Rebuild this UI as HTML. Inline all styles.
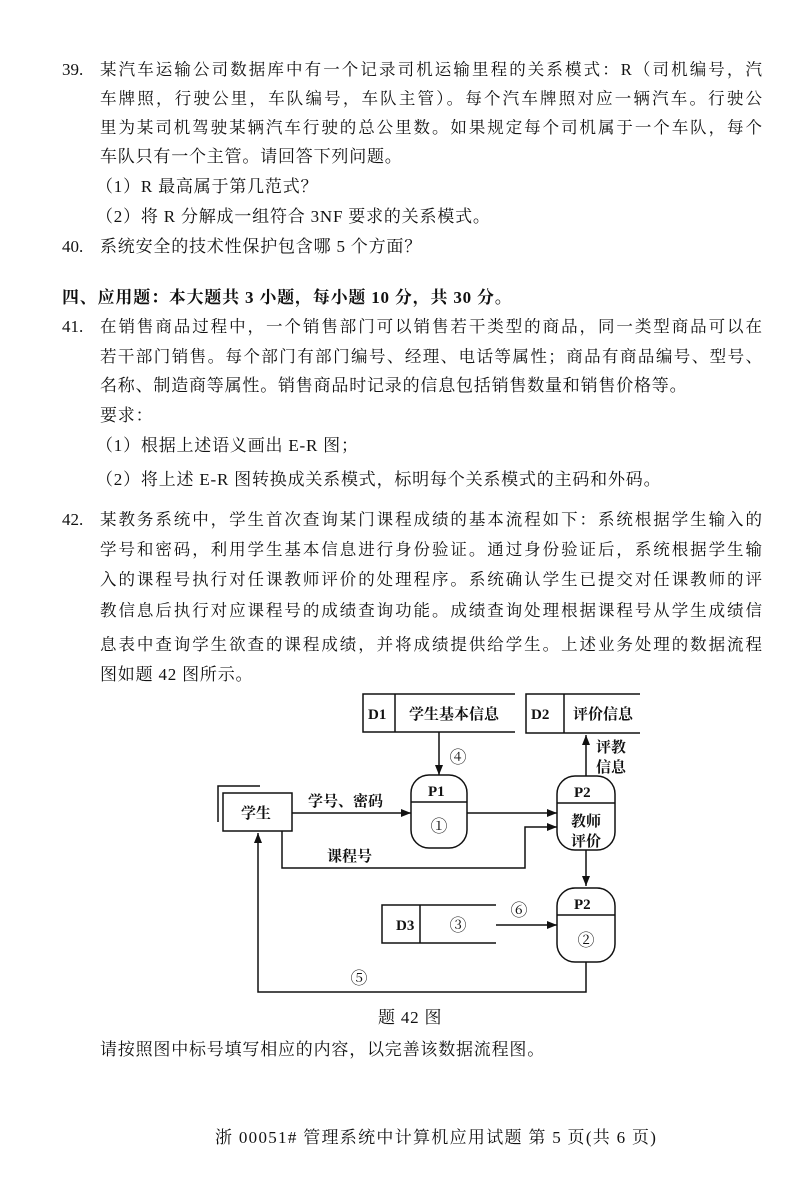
<!DOCTYPE html>
<html><head><meta charset="utf-8"><style>
body{margin:0;width:800px;height:1177px;background:#fff;position:relative;overflow:hidden;font-family:"Liberation Serif","Noto Serif CJK SC",serif;color:#111}
.l{position:absolute;font-size:17px;line-height:20px;white-space:nowrap;letter-spacing:0.8px}
.j{text-align:justify;text-align-last:justify;white-space:normal;height:20px;overflow:hidden;letter-spacing:0;font-size:16.5px}
.n{position:absolute;font-size:17px;line-height:20px}
svg{position:absolute;left:0;top:0}
svg text{font-family:"Liberation Serif","Noto Serif CJK SC",serif}
</style></head><body>
<div class="n" style="left:62px;top:60px">39.</div>
<div class="l j" style="left:100px;top:60px;width:662px">某汽车运输公司数据库中有一个记录司机运输里程的关系模式：R（司机编号，汽</div>
<div class="l j" style="left:100px;top:89px;width:662px">车牌照，行驶公里，车队编号，车队主管）。每个汽车牌照对应一辆汽车。行驶公</div>
<div class="l j" style="left:100px;top:118px;width:662px">里为某司机驾驶某辆汽车行驶的总公里数。如果规定每个司机属于一个车队，每个</div>
<div class="l" style="left:100px;top:147px">车队只有一个主管。请回答下列问题。</div>
<div class="l" style="left:96px;top:177px">（1）R 最高属于第几范式？</div>
<div class="l" style="left:96px;top:207px">（2）将 R 分解成一组符合 3NF 要求的关系模式。</div>
<div class="n" style="left:62px;top:237px">40.</div>
<div class="l" style="left:100px;top:237px">系统安全的技术性保护包含哪 5 个方面？</div>
<div class="l" style="left:62px;top:288px;font-weight:bold">四、应用题：本大题共 3 小题，每小题 10 分，共 30 分。</div>
<div class="n" style="left:62px;top:317px">41.</div>
<div class="l j" style="left:100px;top:317px;width:662px">在销售商品过程中，一个销售部门可以销售若干类型的商品，同一类型商品可以在</div>
<div class="l j" style="left:100px;top:347px;width:662px">若干部门销售。每个部门有部门编号、经理、电话等属性；商品有商品编号、型号、</div>
<div class="l" style="left:100px;top:376px">名称、制造商等属性。销售商品时记录的信息包括销售数量和销售价格等。</div>
<div class="l" style="left:100px;top:406px">要求：</div>
<div class="l" style="left:96px;top:436px">（1）根据上述语义画出 E-R 图；</div>
<div class="l" style="left:96px;top:470px">（2）将上述 E-R 图转换成关系模式，标明每个关系模式的主码和外码。</div>
<div class="n" style="left:62px;top:510px">42.</div>
<div class="l j" style="left:100px;top:510px;width:662px">某教务系统中，学生首次查询某门课程成绩的基本流程如下：系统根据学生输入的</div>
<div class="l j" style="left:100px;top:540px;width:662px">学号和密码，利用学生基本信息进行身份验证。通过身份验证后，系统根据学生输</div>
<div class="l j" style="left:100px;top:570px;width:662px">入的课程号执行对任课教师评价的处理程序。系统确认学生已提交对任课教师的评</div>
<div class="l j" style="left:100px;top:601px;width:662px">教信息后执行对应课程号的成绩查询功能。成绩查询处理根据课程号从学生成绩信</div>
<div class="l j" style="left:100px;top:635px;width:662px">息表中查询学生欲查的课程成绩，并将成绩提供给学生。上述业务处理的数据流程</div>
<div class="l" style="left:100px;top:665px">图如题 42 图所示。</div>

<svg width="800" height="1177" viewBox="0 0 800 1177">
<defs><marker id="a" markerWidth="10" markerHeight="8" refX="10" refY="4" orient="auto" markerUnits="userSpaceOnUse"><path d="M0,0L10,4L0,8z" fill="#111"/></marker></defs>
<g stroke="#111" stroke-width="1.5" fill="none">
<path d="M515,694H363V732H515M395,694V732"/>
<path d="M640,694H526V733H640M564,694V733"/>
<path d="M496,905H382V943H496M420,905V943"/>
<rect x="223" y="793" width="69" height="38"/>
<path d="M260,786H218V822"/>
<rect x="411" y="775" width="56" height="73" rx="18"/>
<path d="M411,802H467"/>
<rect x="557" y="776" width="58" height="74" rx="18"/>
<path d="M557,803H615"/>
<rect x="557" y="888" width="58" height="74" rx="18"/>
<path d="M557,915H615"/>
<path d="M439,732V775" marker-end="url(#a)"/>
<path d="M586,776V735" marker-end="url(#a)"/>
<path d="M292,813H411" marker-end="url(#a)"/>
<path d="M467,813H557" marker-end="url(#a)"/>
<path d="M282,831V868H525V827H557" marker-end="url(#a)"/>
<path d="M586,850V886" marker-end="url(#a)"/>
<path d="M496,925H557" marker-end="url(#a)"/>
<path d="M586,962V992H258V833" marker-end="url(#a)"/>
</g>
<g font-size="15" fill="#111" font-weight="bold">
<text x="368" y="719">D1</text><text x="409" y="719">学生基本信息</text>
<text x="531" y="719">D2</text><text x="573" y="719">评价信息</text>
<text x="396" y="930">D3</text>
<text x="428" y="796">P1</text><text x="574" y="797">P2</text><text x="574" y="909">P2</text>
<text x="241" y="818">学生</text>
<text x="308" y="806">学号、密码</text>
<text x="327" y="861">课程号</text>
<text x="571" y="826">教师</text><text x="571" y="846">评价</text>
<text x="596" y="752">评教</text><text x="596" y="772">信息</text>
</g>
<g font-size="17" fill="#111" text-anchor="middle">
<text x="439" y="832">①</text><text x="586" y="946">②</text><text x="458" y="931">③</text>
<text x="458" y="763">④</text><text x="359" y="984">⑤</text><text x="519" y="916">⑥</text>
</g>
</svg>
<div class="l" style="left:378px;top:1008px">题 42 图</div>
<div class="l" style="left:100px;top:1040px">请按照图中标号填写相应的内容，以完善该数据流程图。</div>
<div class="l" style="left:215px;top:1128px;letter-spacing:1.3px">浙 00051# 管理系统中计算机应用试题 第 5 页(共 6 页)</div>
</body></html>
